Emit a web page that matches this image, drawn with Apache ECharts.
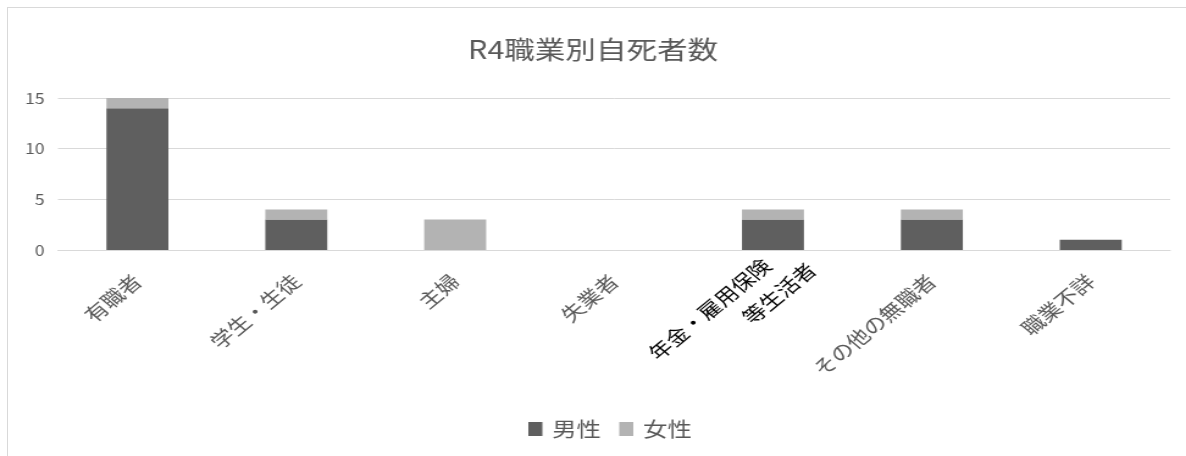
<!DOCTYPE html>
<html>
<head>
<meta charset="utf-8">
<script src="https://cdn.jsdelivr.net/npm/echarts@6/dist/echarts.min.js"></script>
<style>
html,body{margin:0;padding:0;background:#fff;overflow:hidden;}
#frame{position:absolute;left:7px;top:7px;width:1200px;height:470px;border:1px solid #d9d9d9;box-sizing:border-box;}
#chart{position:absolute;left:0;top:0;width:972px;height:456px;transform:scaleX(1.2202);transform-origin:0 0;}
</style>
</head>
<body>
<div id="frame"></div>
<div id="chart"></div>
<script>
const title = 'R4職業別自死者数';
const categories = ['有職者', '学生・生徒', '主婦', '失業者', '年金・雇用保険\n等生活者', 'その他の無職者', '職業不詳'];
const seriesNames = ['男性', '女性'];
const male = [14, 3, 0, 0, 3, 3, 1];
const female = [1, 1, 3, 0, 1, 1, 0];
const yTicks = [0, 5, 10, 15];

const font = '"Noto Sans CJK JP", "Noto Sans", sans-serif';
const xData = categories.map(c => c.indexOf('\n') >= 0
  ? {value: c, textStyle: {align: 'center', verticalAlign: 'middle', color: '#000'}}
  : c);

const chart = echarts.init(document.getElementById('chart'));
chart.setOption({
  animation: false,
  textStyle: {fontFamily: font},
  title: {
    text: title, left: 'center', top: 32,
    textStyle: {fontSize: 25, fontWeight: 'normal', color: '#595959', fontFamily: font}
  },
  legend: {
    data: seriesNames, top: 414, left: 428,
    icon: 'rect', itemWidth: 11.5, itemHeight: 14, itemGap: 15,
    textStyle: {fontSize: 20, color: '#595959', fontFamily: font, padding: [0, 0, 0, 3]}
  },
  grid: {left: 47.5, right: 13, top: 98, bottom: 206, containLabel: false},
  xAxis: {
    type: 'category', data: xData,
    axisLine: {lineStyle: {color: '#d9d9d9', width: 1}},
    axisTick: {show: false},
    axisLabel: {
      rotate: 45, margin: 28, interval: 0, fontSize: 19, color: '#595959', fontFamily: font,
      formatter: function (v) {
        if (v.indexOf('\n') >= 0) {
          const parts = v.split('\n');
          return '{l1|' + parts[0] + '}\n{l2|' + parts[1] + '}';
        }
        return v;
      },
      rich: {
        l1: {color: '#000', fontSize: 19, lineHeight: 29, padding: [0, 117.6, 0, 0], fontFamily: font},
        l2: {color: '#000', fontSize: 19, lineHeight: 29, padding: [0, 94.6, 0, 80], fontFamily: font}
      }
    }
  },
  yAxis: {
    type: 'value', min: yTicks[0], max: yTicks[yTicks.length - 1], interval: 5,
    axisLine: {show: false}, axisTick: {show: false},
    axisLabel: {fontSize: 14.5, color: '#595959', margin: 11, fontFamily: font},
    splitLine: {lineStyle: {color: '#d9d9d9', width: 1}}
  },
  series: [
    {name: seriesNames[0], type: 'bar', stack: 's', data: male, barWidth: '39%', itemStyle: {color: '#5f5f5f'}},
    {name: seriesNames[1], type: 'bar', stack: 's', data: female, barWidth: '39%', itemStyle: {color: '#b3b3b3'}}
  ]
});
</script>
</body>
</html>
